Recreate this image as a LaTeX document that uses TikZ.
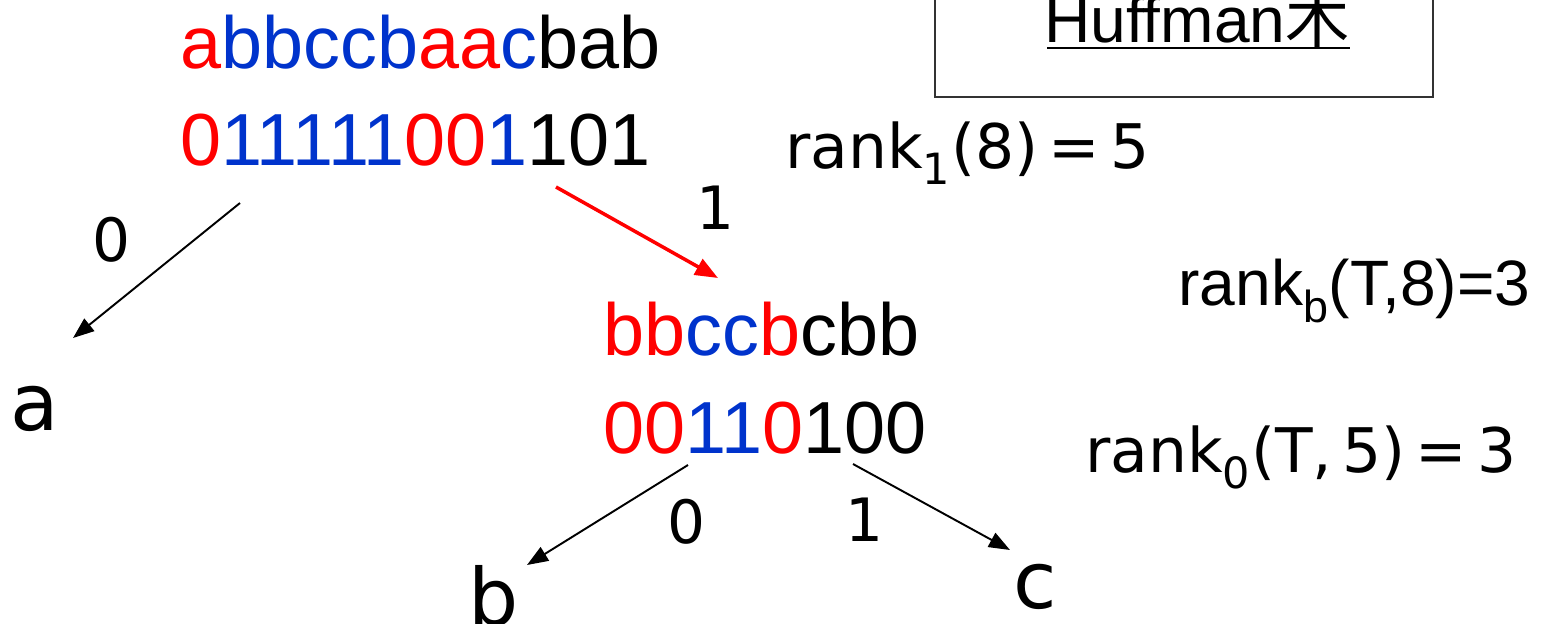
\documentclass[tikz,border=0pt]{standalone}
\usepackage{fontspec}
\setmainfont{Liberation Sans}
\newfontfamily\widefont{DejaVu Sans}
\newfontfamily\cjk{Noto Sans CJK JP}
\usetikzlibrary{arrows.meta, calc}

\definecolor{hblue}{RGB}{0,51,204}
\definecolor{hred}{RGB}{255,0,0}

\begin{document}
\begin{tikzpicture}[
      x=0.02cm, y=-0.02cm,
      seq/.style={
          inner sep=0,
          anchor=base west,
          font=\fontsize{42}{48}\selectfont
        },
      lbl/.style={
          inner sep=0,
          font=\widefont\fontsize{34}{40}\selectfont
        },
      leaf/.style={
          inner sep=0,
          anchor=base west,
          font=\widefont\fontsize{45}{54}\selectfont
        },
      formula/.style={
          inner sep=0,
          anchor=base west
        },
      edge/.style={
          -{Triangle[length=12pt,width=9pt]},
          line width=1.1pt
        },
      redge/.style={
          -{Triangle[length=13pt,width=10pt]},
          line width=2pt,
          draw=hred
        }
    ]
    \useasboundingbox (0,0) rectangle (1553,623);

    % Title box
    \draw[line width=1.2pt, draw=black!80] (935,-20) rectangle (1433,97);
    \node[formula, font=\fontsize{36.5}{42}\selectfont] (title) at (1044,42) {Huffman{\cjk 木}};
    \draw[line width=1.7pt] ($(title.base west)+(3,6)$) -- ($(title.base east)+(0,6)$);

    % Root
    \node[seq] (root) at (180,68) {\textcolor{hred}{a}\textcolor{hblue}{bbccb}\textcolor{hred}{aa}\textcolor{hblue}{c}bab};
    \node[seq] (rootbits) at (180,165) {\textcolor{hred}{0}\textcolor{hblue}{11111}\textcolor{hred}{00}\textcolor{hblue}{1}101};

    % Inner node
    \node[seq] (mid) at (603,355) {\textcolor{hred}{bb}\textcolor{hblue}{cc}\textcolor{hred}{b}cbb};
    \node[seq] (midbits) at (603,453) {\textcolor{hred}{00}\textcolor{hblue}{11}\textcolor{hred}{0}100};

    % Leaves
    \node[leaf] (leafa) at (10,430) {a};
    \node[leaf] (leafb) at (468,625) {b};
    \node[leaf] (leafc) at (1013,608) {c};

    % Rank formulas
    \node[formula, font=\widefont\fontsize{35}{40}\selectfont] (rank1) at (785,168) {rank\textsubscript{1}(8)\,=\,5};
    \node[formula, font=\fontsize{36.5}{42}\selectfont] (rankb) at (1178,305) {rank\textsubscript{b}(T,8)=3};
    \node[formula, font=\widefont\fontsize{35}{40}\selectfont] (rank0) at (1085,472) {rank\textsubscript{0}(T,\,5)\,=\,3};

    % Arrow ends
    \coordinate (rootL) at (240,203);
    \coordinate (rootR) at (556,187);
    \coordinate (toA) at (73,338);
    \coordinate (toMid) at (718,278);
    \coordinate (midL) at (688,465);
    \coordinate (midR) at (853,464);
    \coordinate (toB) at (527,565);
    \coordinate (toC) at (1010,550);

    % Arrows
    \draw[edge] (rootL) -- (toA);
    \draw[redge] (rootR) -- (toMid);
    \draw[edge] (midL) -- (toB);
    \draw[edge] (midR) -- (toC);

    % Branch labels
    \node[lbl] (lbl0) at (112,240) {0};
    \node[lbl] (lbl1) at (715,208) {1};
    \node[lbl] (lbl00) at (686,522) {0};
    \node[lbl] (lbl01) at (864,520) {1};
  \end{tikzpicture}
\end{document}
